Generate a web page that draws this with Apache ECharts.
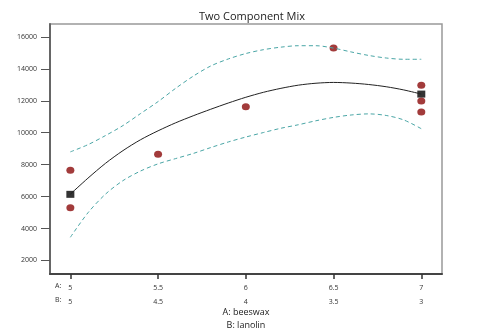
<!DOCTYPE html>
<html>
<head>
<meta charset="utf-8">
<script src="https://cdn.jsdelivr.net/npm/echarts@6/dist/echarts.min.js"></script>
<style>
html,body{margin:0;padding:0;background:#fff;}
#main{width:487px;height:332px;}
</style>
</head>
<body>
<div id="main"></div>
<script>
// tick labels of the two components (B = 10 - A)
var aTicks = [5, 5.5, 6, 6.5, 7];
var bTicks = [5, 4.5, 4, 3.5, 3];
var yTicks = [2000, 4000, 6000, 8000, 10000, 12000, 14000, 16000];

// curve x positions (beeswax)
var curveX = [5.0, 5.1, 5.2, 5.3, 5.4, 5.5, 5.6, 5.7, 5.8, 5.9, 6.0, 6.1, 6.2, 6.3, 6.4, 6.5, 6.6, 6.7, 6.8, 6.9, 7.0];
// fitted prediction
var fitY = [6150, 7150, 8080, 8880, 9560, 10120, 10620, 11060, 11470, 11860, 12220, 12530, 12780, 12980, 13100, 13150, 13110, 13020, 12880, 12680, 12420];
// upper / lower confidence band
var upperY = [8800, 9250, 9820, 10450, 11200, 11950, 12780, 13540, 14180, 14620, 14960, 15200, 15360, 15450, 15450, 15300, 15060, 14840, 14680, 14600, 14600];
var lowerY = [3450, 4980, 6150, 7000, 7600, 8050, 8380, 8700, 9070, 9420, 9730, 10010, 10280, 10500, 10750, 10960, 11110, 11180, 11080, 10800, 10250];

// design points (red) and averaged points (black squares)
var ptsX = [5, 5, 5.5, 6, 6.5, 7, 7, 7];
var ptsY = [7650, 5300, 8650, 11630, 15300, 12980, 11980, 11300];
var avgX = [5, 7];
var avgY = [6140, 12420];

function pairs(xs, ys){
	var out = [];
	for(var i=0;i<xs.length;i++){
		out.push([xs[i], ys[i]]);
	}
	return out;
}

var chart = echarts.init(document.getElementById('main'));
var txt = '#333';
var option = {
	backgroundColor: '#fff',
	animation: false,
	title: {
		text: 'Two Component Mix',
		left: 247, top: 6, textAlign: 'center',
		textStyle: {fontFamily: 'Open Sans', fontSize: 11, fontWeight: 'normal', color: '#222'}
	},
	grid: {
		left: 50, top: 24, right: 45, bottom: 58,
		containLabel: false, outerBoundsMode: 'none',
		show: true, borderColor: '#999', borderWidth: 1.5
	},
	xAxis: {
		type: 'value', min: 4.884, max: 7.118,
		splitLine: {show: false},
		axisLine: {lineStyle: {color: '#444', width: 2}},
		axisTick: {show: true, length: 5, customValues: aTicks, lineStyle: {color: '#333', width: 1.5}},
		axisLabel: {
			customValues: aTicks, margin: 7,
			fontFamily: 'Open Sans', fontSize: 7, color: txt, lineHeight: 14,
			formatter: function(v){
				var i = aTicks.indexOf(v);
				return v + '\n' + bTicks[i];
			}
		},
		name: 'A: beeswax\nB: lanolin',
		nameLocation: 'middle', nameGap: 32, nameMoveOverlap: false,
		nameTextStyle: {fontFamily: 'Open Sans', fontSize: 9, color: '#222', lineHeight: 13, verticalAlign: 'top'}
	},
	yAxis: {
		type: 'value', min: 1150, max: 16810,
		splitLine: {show: false},
		axisLine: {show: true, lineStyle: {color: '#666', width: 2}},
		axisTick: {show: true, length: 9, customValues: yTicks, lineStyle: {color: '#555'}},
		axisLabel: {
			customValues: yTicks, margin: 13, fontFamily: 'Open Sans', fontSize: 7, color: txt,
			formatter: function(v){ return String(v); }
		}
	},
	graphic: [
		{type: 'text', left: 55, top: 282, style: {text: 'A:', font: '7px "Open Sans"', fill: txt}},
		{type: 'text', left: 55, top: 296, style: {text: 'B:', font: '7px "Open Sans"', fill: txt}}
	],
	series: [
		{
			name: 'upper', type: 'line', data: pairs(curveX, upperY), smooth: 0.3,
			showSymbol: false, lineStyle: {color: '#4aa6a6', width: 1, type: [4, 3]}
		},
		{
			name: 'lower', type: 'line', data: pairs(curveX, lowerY), smooth: 0.3,
			showSymbol: false, lineStyle: {color: '#4aa6a6', width: 1, type: [4, 3]}
		},
		{
			name: 'fit', type: 'line', data: pairs(curveX, fitY), smooth: 0.3,
			showSymbol: false, lineStyle: {color: '#222', width: 1}
		},
		{
			name: 'design', type: 'scatter', data: pairs(ptsX, ptsY),
			symbol: 'circle', symbolSize: [8, 7], itemStyle: {color: '#8b0a0a'}
		},
		{
			name: 'avg', type: 'scatter', data: pairs(avgX, avgY),
			symbol: 'rect', symbolSize: [8, 7], itemStyle: {color: '#000'}
		}
	]
};
chart.setOption(option);
</script>
</body>
</html>
